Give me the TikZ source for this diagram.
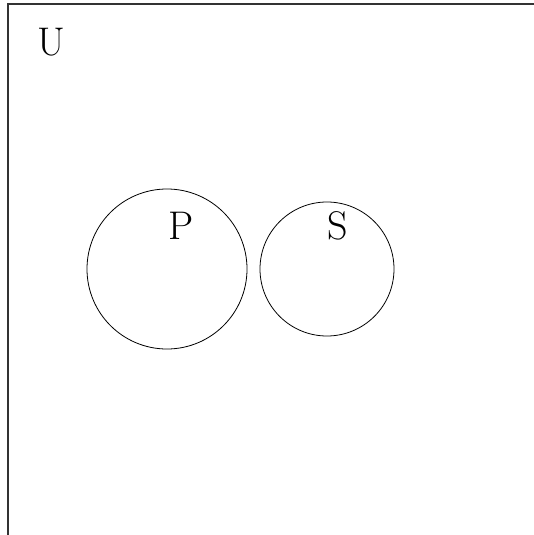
\documentclass[tikz,border=0pt]{standalone}
\begin{document}
\begin{tikzpicture}[x=1pt,y=-1pt,
  lbl/.style={font=\fontsize{40}{48}\selectfont, inner sep=0pt, anchor=base},
  setc/.style={draw=black, line width=0.8pt}]
\useasboundingbox (0,0) rectangle (534,535);
\begin{scope}
\clip (0,0) rectangle (534,535);
\draw[line width=1.1pt, draw=black!80] (8,4) rectangle (560,535.6);
\end{scope}
\node[lbl] (u) at (51,56) {U};
\draw[setc] (167,269) circle[radius=80];
\draw[setc] (327,269) circle[radius=67];
\node[lbl] (p) at (181,239) {P};
\node[lbl] (s) at (338,239) {S};
\end{tikzpicture}
\end{document}
